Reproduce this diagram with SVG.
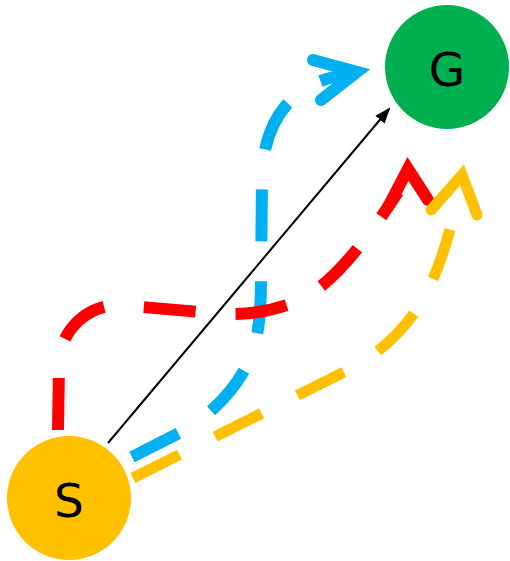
<svg xmlns="http://www.w3.org/2000/svg" width="510" height="561" viewBox="0 0 510 561">
  <style>
    .route { fill: none; stroke-width: 12; stroke-dasharray: 52 40; stroke-linecap: butt; }
    .head { fill: none; stroke-width: 12; stroke-linejoin: miter; stroke-miterlimit: 10; stroke-linecap: round; }
    .blue { stroke: #00B0F0; }
    .red { stroke: #FF0000; }
    .gold { stroke: #FFC000; }
    .label { font-family: "DejaVu Sans", "Liberation Sans", sans-serif; font-size: 47px; fill: #000; text-anchor: middle; }
  </style>
  <defs>
    <marker id="tip" markerWidth="8" markerHeight="8" refX="7" refY="4" orient="auto" markerUnits="strokeWidth">
      <path d="M0,1 L8,4 L0,7 z" fill="#000"/>
    </marker>
  </defs>

  <g id="connectors">
    <!-- upper route (blue) -->
    <path class="route blue" d="M132,457 L185,430 C215,412 245,380 255,345 C260,325 261,300 261,280 L262,180 C262,130 285,90 330,78 L352,73"/>
    <polyline class="head blue" points="313,60 357,72 321,100"/>
    <!-- middle route (red) -->
    <path class="route red" d="M58,430 L59,365 A60,60 0 0 1 119,305 L200,312 C235,316 265,315 300,300 C330,285 360,250 398,192"/>
    <polyline class="head red" points="388,207 408,169 428,200"/>
    <!-- lower route (gold) -->
    <path class="route gold" style="stroke-width:11" d="M133,478 L350,369 C385,350 410,325 428,290 C440,265 450,235 458,195"/>
    <polyline class="head gold" style="stroke-width:11" points="431,210 462,175 477,215"/>
    <!-- direct link -->
    <line x1="108" y1="443" x2="389" y2="109" stroke="#000" stroke-width="2" marker-end="url(#tip)"/>
  </g>

  <g id="node-S">
    <circle cx="69" cy="498" r="62" fill="#FFC000"/>
    <text class="label" x="69" y="517">S</text>
  </g>

  <g id="node-G">
    <circle cx="447" cy="67" r="62" fill="#00B050"/>
    <text class="label" x="447" y="86">G</text>
  </g>
</svg>
